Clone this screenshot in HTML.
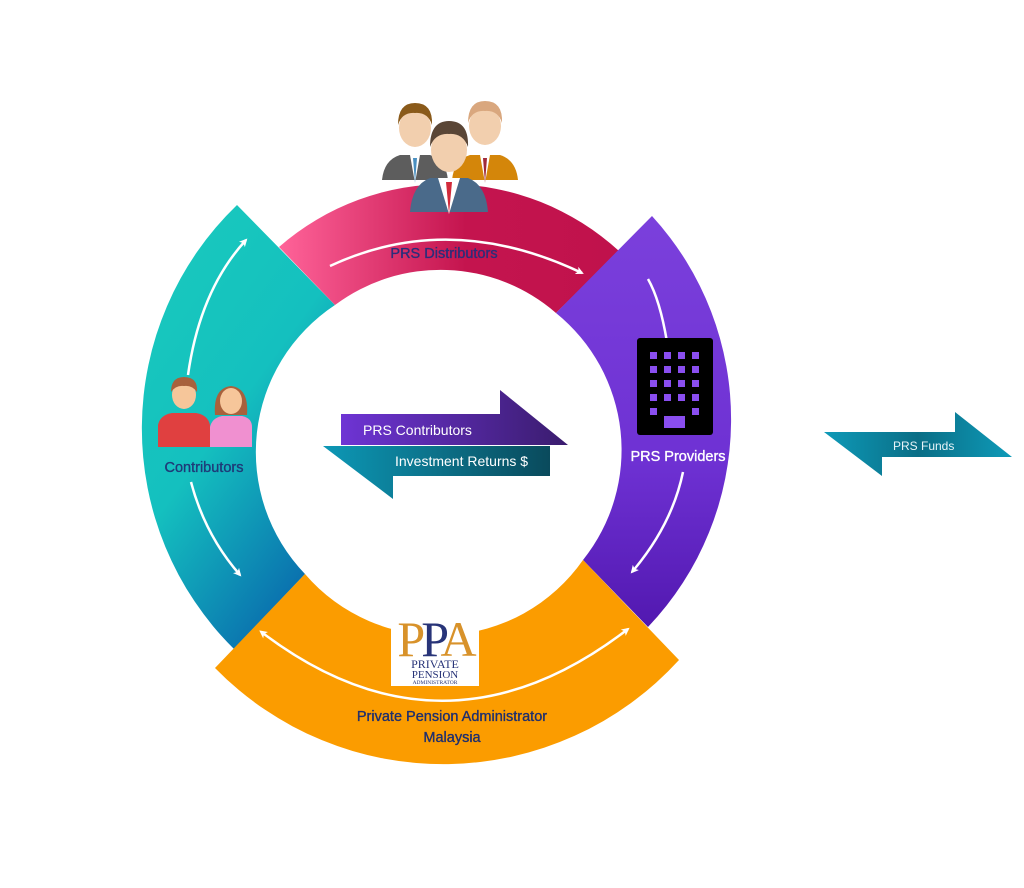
<!DOCTYPE html>
<html><head><meta charset="utf-8"><style>
html,body{margin:0;padding:0;background:#fff;width:1024px;height:888px;overflow:hidden}
svg{display:block}
text{font-family:"Liberation Sans",sans-serif}
.lb{stroke-width:0.35px}
</style></head><body>
<svg width="1024" height="888" viewBox="0 0 1024 888" xmlns="http://www.w3.org/2000/svg">
<defs>
<linearGradient id="gT" x1="0" y1="0" x2="0.6" y2="1"><stop offset="0" stop-color="#1acbbd"/><stop offset="0.55" stop-color="#14c0bf"/><stop offset="1" stop-color="#0a6fae"/></linearGradient>
<linearGradient id="gP" x1="0" y1="0" x2="1" y2="0"><stop offset="0" stop-color="#ff6399"/><stop offset="0.55" stop-color="#c4144e"/><stop offset="1" stop-color="#c0124c"/></linearGradient>
<linearGradient id="gU" x1="0" y1="0" x2="0" y2="1"><stop offset="0" stop-color="#7b40dc"/><stop offset="0.6" stop-color="#6e31d3"/><stop offset="1" stop-color="#5218b0"/></linearGradient>
<linearGradient id="gA1" x1="0" y1="0" x2="1" y2="0"><stop offset="0" stop-color="#6e34d4"/><stop offset="1" stop-color="#3a1c6e"/></linearGradient>
<linearGradient id="gA2" x1="0" y1="0" x2="1" y2="0"><stop offset="0" stop-color="#0d98b6"/><stop offset="1" stop-color="#0a4a5c"/></linearGradient>
<linearGradient id="gF" x1="0" y1="0" x2="1" y2="0"><stop offset="0" stop-color="#0e9ab8"/><stop offset="0.5" stop-color="#0a6e86"/><stop offset="1" stop-color="#0e9ab8"/></linearGradient>
<marker id="ah" markerWidth="8" markerHeight="8" refX="6" refY="4" orient="auto" markerUnits="userSpaceOnUse"><path d="M0,0 L8,4 L0,8 L2,4 Z" fill="#fff"/></marker>
<marker id="ahs" markerWidth="8" markerHeight="8" refX="2" refY="4" orient="auto-start-reverse" markerUnits="userSpaceOnUse"><path d="M0,0 L8,4 L0,8 L2,4 Z" fill="#fff"/></marker>
</defs>

<path d="M237,205 A310,310 0 0 0 234,649 L305,574 A176,176 0 0 1 335,305 Z" fill="url(#gT)"/>
<path d="M279,247 A255,255 0 0 1 619,251 L556,313 A176,176 0 0 0 335,305 Z" fill="url(#gP)"/>
<path d="M652,216 A301,301 0 0 1 648,627 L583,560 A176,176 0 0 0 556,313 Z" fill="url(#gU)"/>
<path d="M215,668 A319,319 0 0 0 679,660 L583,560 A176,176 0 0 1 305,574 Z" fill="#fb9c00"/>

<path d="M330,266 Q450,210 582,273" fill="none" stroke="#fff" stroke-width="2.5" marker-end="url(#ah)"/>
<path d="M188,375 Q200,290 246,240" fill="none" stroke="#fff" stroke-width="2.5" marker-end="url(#ah)"/>
<path d="M191,482 Q205,535 240,575" fill="none" stroke="#fff" stroke-width="2.5" marker-end="url(#ah)"/>
<path d="M648,279 Q660,300 667,342" fill="none" stroke="#fff" stroke-width="2.5"/>
<path d="M683,472 Q672,525 632,572" fill="none" stroke="#fff" stroke-width="2.5" marker-end="url(#ah)"/>
<path d="M264,634 Q445,770 628,629" fill="none" stroke="#fff" stroke-width="2.5" marker-start="url(#ahs)" marker-end="url(#ah)"/>

<g>
 <path d="M382,180 Q384,160 400,155 L430,155 Q446,160 448,180 Z" fill="#5d5d5d"/>
 <path d="M410,155 L415,183 L420,155 Z" fill="#fff"/><path d="M413,158 L415,183 L417,158 Z" fill="#4a8fc0"/>
 <ellipse cx="415" cy="128" rx="16" ry="19" fill="#f2cfae"/>
 <path d="M398,125 Q398,103 415,103 Q433,103 432,125 Q428,112 415,113 Q402,112 398,125 Z" fill="#8a5a1a"/>
 <path d="M452,180 Q454,160 470,155 L500,155 Q516,160 518,180 Z" fill="#d4860a"/>
 <path d="M480,155 L485,183 L490,155 Z" fill="#fff"/><path d="M483,158 L485,183 L487,158 Z" fill="#a02a3a"/>
 <ellipse cx="485" cy="126" rx="16" ry="19" fill="#f2cfae"/>
 <path d="M468,123 Q468,101 485,101 Q503,101 502,123 Q498,110 485,111 Q472,110 468,123 Z" fill="#d9a77e"/>
 <path d="M410,212 Q412,185 430,178 L468,178 Q486,185 488,212 Z" fill="#4a6a8a"/>
 <path d="M438,178 L449,214 L460,178 Z" fill="#fff"/><path d="M446,182 L449,214 L452,182 Z" fill="#d22a3a"/>
 <ellipse cx="449" cy="150" rx="18" ry="22" fill="#f2cfae"/>
 <path d="M430,147 Q430,121 449,121 Q469,121 468,147 Q463,133 449,134 Q435,133 430,147 Z" fill="#5a4636"/>
</g>

<g>
 <path d="M158,447 L158,425 Q160,415 172,413 L196,413 Q208,415 210,425 L210,447 Z" fill="#e04040"/>
 <ellipse cx="184" cy="395" rx="12" ry="14" fill="#f6c69a"/>
 <path d="M171,392 Q171,377 184,377 Q198,377 197,392 Q192,385 184,386 Q176,385 171,392 Z" fill="#a8613c"/>
 <path d="M210,447 L210,427 Q212,418 222,416 L242,416 Q252,418 252,427 L252,447 Z" fill="#f090d0"/>
 <path d="M215,415 Q213,388 231,386 Q249,388 247,415 Z" fill="#a8613c"/>
 <ellipse cx="231" cy="401" rx="11" ry="13" fill="#f6c69a"/>
</g>

<rect x="637" y="338" width="76" height="97" rx="3" fill="#000"/>
<g fill="#8a4ef0">
 <rect x="650" y="352" width="7" height="7"/><rect x="664" y="352" width="7" height="7"/><rect x="678" y="352" width="7" height="7"/><rect x="692" y="352" width="7" height="7"/>
 <rect x="650" y="366" width="7" height="7"/><rect x="664" y="366" width="7" height="7"/><rect x="678" y="366" width="7" height="7"/><rect x="692" y="366" width="7" height="7"/>
 <rect x="650" y="380" width="7" height="7"/><rect x="664" y="380" width="7" height="7"/><rect x="678" y="380" width="7" height="7"/><rect x="692" y="380" width="7" height="7"/>
 <rect x="650" y="394" width="7" height="7"/><rect x="664" y="394" width="7" height="7"/><rect x="678" y="394" width="7" height="7"/><rect x="692" y="394" width="7" height="7"/>
 <rect x="650" y="408" width="7" height="7"/><rect x="692" y="408" width="7" height="7"/>
 <rect x="664" y="416" width="21" height="12"/>
</g>

<rect x="391" y="598" width="88" height="88" fill="#fff"/>
<text x="435" y="656" text-anchor="middle" font-size="50" fill="#d8922a" style="font-family:'Liberation Serif',serif" letter-spacing="-4">P<tspan fill="#283478">P</tspan>A</text>
<text x="435" y="668" text-anchor="middle" font-size="12" fill="#283478" style="font-family:'Liberation Serif',serif">PRIVATE</text>
<text x="435" y="678" text-anchor="middle" font-size="11" fill="#283478" style="font-family:'Liberation Serif',serif">PENSION</text>
<text x="435" y="684" text-anchor="middle" font-size="5.5" fill="#283478" style="font-family:'Liberation Serif',serif">ADMINISTRATOR</text>

<path d="M341,414 L500,414 L500,390 L568,445 L341,445 Z" fill="url(#gA1)"/>
<path d="M323,446 L550,446 L550,476 L393,476 L393,499 Z" fill="url(#gA2)"/>
<text x="363" y="435" font-size="14" fill="#fff">PRS Contributors</text>
<text x="395" y="466" font-size="14" fill="#fff">Investment Returns $</text>

<path d="M824,432 L955,432 L955,412 L1012,457 L882,457 L882,476 Z" fill="url(#gF)"/>
<text x="893" y="450" font-size="12" fill="#e8f4f8">PRS Funds</text>

<text class="lb" x="444" y="258" text-anchor="middle" font-size="14.5" fill="#2b2e7a" stroke="#2b2e7a">PRS Distributors</text>
<text class="lb" x="204" y="472" text-anchor="middle" font-size="14.5" fill="#1f3a78" stroke="#1f3a78">Contributors</text>
<text class="lb" x="678" y="461" text-anchor="middle" font-size="14.5" fill="#fff" stroke="#fff">PRS Providers</text>
<text class="lb" x="452" y="721" text-anchor="middle" font-size="14.5" fill="#1f2f6e" stroke="#1f2f6e">Private Pension Administrator</text>
<text class="lb" x="452" y="742" text-anchor="middle" font-size="14.5" fill="#1f2f6e" stroke="#1f2f6e">Malaysia</text>
</svg>
</body></html>
